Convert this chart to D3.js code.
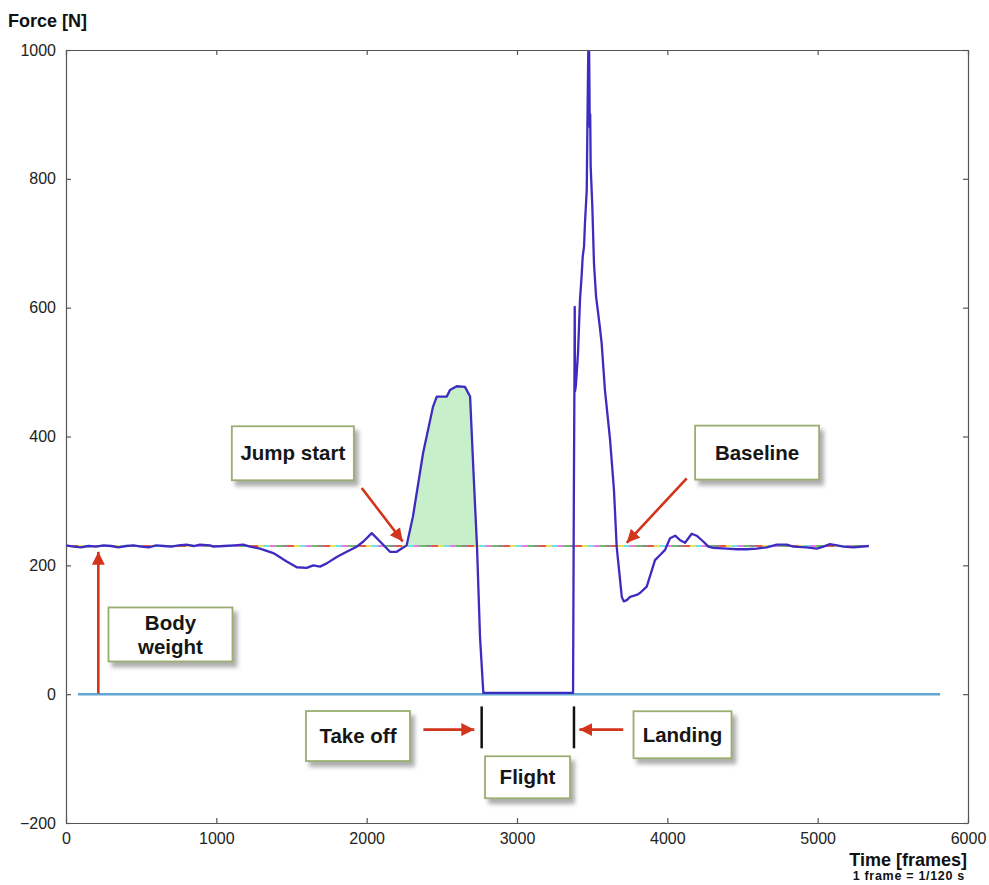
<!DOCTYPE html>
<html>
<head>
<meta charset="utf-8">
<script src="https://cdn.jsdelivr.net/npm/d3@7"></script>
<style>
  body { margin: 0; background: #fff; }
  svg { font-family: "Liberation Sans", Arial, sans-serif; }
</style>
</head>
<body>
<div id="chart"></div>
<script>
// Force plate trace of a countermovement jump.

const FRAMES = [
  0, 50, 100, 150, 200, 250, 300, 350, 400, 450, 500, 550, 600, 650, 700, 750, 800, 850,
  891, 958, 980, 1050, 1120, 1179, 1224, 1290, 1379, 1468, 1535, 1601, 1645, 1690, 1734,
  1801, 1867, 1934, 1978, 2034, 2089, 2155, 2200, 2233, 2266, 2308, 2375, 2441, 2466, 2533,
  2554, 2599, 2654, 2688, 2710, 2734, 2754, 2776, 3373, 3378, 3382, 3384, 3386, 3392, 3406,
  3419, 3430, 3437, 3446, 3452, 3464, 3468, 3474, 3480, 3484, 3487, 3490, 3501, 3512, 3526,
  3548, 3563, 3585, 3619, 3645, 3663, 3681, 3697, 3710, 3730, 3752, 3796, 3818, 3863, 3918,
  3952, 3985, 4018, 4052, 4085, 4118, 4162, 4195, 4239, 4273, 4306, 4395, 4461, 4528, 4595,
  4661, 4728, 4794, 4838, 4927, 4994, 5038, 5082, 5128, 5172, 5237, 5340
];
const FORCE = [
  231, 229, 228, 230, 229, 231, 230, 228, 230, 231, 229, 228, 231, 230, 229, 231, 232, 230,
  232, 231, 229, 230, 231, 232, 229, 226, 219, 206, 197, 196, 200, 198, 203,
  213, 221, 229, 237, 250, 237, 221, 221, 226, 231, 276, 374, 446, 462, 462,
  472, 478, 477, 462, 348, 229, 89, 2, 2, 300, 480, 601, 470, 480, 530,
  612, 650, 679, 695, 731, 783, 876, 997, 997, 880, 900, 820, 757, 669, 617,
  576, 545, 472, 395, 317, 229, 188, 151, 144, 146, 151, 154, 157, 167, 208,
  216, 224, 242, 246, 239, 235, 249, 246, 237, 229, 227, 226, 225, 225, 226,
  228, 232, 232, 229, 228, 226, 229, 233, 231, 229, 228, 230
];

const BODY_WEIGHT   = 230;          // N, dashed baseline
const BASELINE_SPAN = [0, 5340];    // frames
const ZERO_SPAN     = [80, 5815];   // frames
const IMPULSE_SPAN  = [2266, 2734]; // shaded region (jump start -> crossing)

const X_TICKS = [0, 1000, 2000, 3000, 4000, 5000, 6000];
const Y_TICKS = [-200, 0, 200, 400, 600, 800, 1000];

// Callout boxes: label lines and centre in data units
const LABELS = [
  { lines: ["Jump start"],     at: [1509, 374],  w: 122, h: 54 },
  { lines: ["Baseline"],       at: [4597, 375],  w: 124, h: 54 },
  { lines: ["Body", "weight"], at: [695, 92.7],  w: 124, h: 54 },
  { lines: ["Take off"],       at: [1942, -65],  w: 104, h: 50 },
  { lines: ["Landing"],        at: [4101, -63],  w: 98,  h: 47 },
  { lines: ["Flight"],         at: [3070, -129], w: 85,  h: 42 },
];

// Red arrows: from -> to, data units
const ARROWS = [
  { from: [1967, 320], to: [2240, 237] },
  { from: [4129, 335], to: [3730, 235] },
  { from: [215, 1],    to: [215, 221] },
  { from: [2377, -55], to: [2716, -55] },
  { from: [3707, -55], to: [3415, -55] },
];

// Black take-off / landing markers
const MARKERS = [2765, 3379];
const MARKER_RANGE = [-19, -84];

// ── Layout ──────────────────────────────────────────────────────────────────

const W = 989, H = 885;
const margin = { top: 50, right: 21, bottom: 62, left: 66 };

const x = d3.scaleLinear().domain([0, 6000]).range([margin.left, W - margin.right]);
const y = d3.scaleLinear().domain([-200, 1000]).range([H - margin.bottom, margin.top]);

const svg = d3.select("#chart").append("svg")
  .attr("width", W)
  .attr("height", H);

const defs = svg.append("defs");
defs.append("filter")
  .attr("id", "shadow")
  .attr("x", "-20%").attr("y", "-20%").attr("width", "150%").attr("height", "160%")
  .append("feDropShadow")
    .attr("dx", 4).attr("dy", 5)
    .attr("stdDeviation", 2)
    .attr("flood-color", "#777")
    .attr("flood-opacity", 0.6);

defs.append("marker")
  .attr("id", "head")
  .attr("viewBox", "0 0 10 10")
  .attr("refX", 10).attr("refY", 5)
  .attr("markerWidth", 5).attr("markerHeight", 5)
  .attr("markerUnits", "strokeWidth")
  .attr("orient", "auto")
  .append("path")
    .attr("d", "M0,0 L10,5 L0,10 z")
    .attr("fill", "#d2341c");

// ── Axes (MATLAB-style box, inward ticks on all sides) ───────────────────────

const axisColor = "#555";
const tickStyle = ax => {
  ax.selectAll("path.domain").attr("stroke", axisColor).attr("stroke-width", 1.2);
  ax.selectAll(".tick line").attr("stroke", axisColor).attr("stroke-width", 1.2);
  ax.selectAll("text").attr("fill", "#222").style("font-size", "16px")
    .style("font-family", "'Liberation Sans', Arial, sans-serif");
};

svg.append("g")
  .attr("transform", `translate(${margin.left},0)`)
  .call(d3.axisLeft(y).tickValues(Y_TICKS).tickSizeInner(-5).tickSizeOuter(0).tickPadding(10)
    .tickFormat(d3.format("d")))
  .call(tickStyle);

svg.append("g")
  .attr("transform", `translate(${W - margin.right},0)`)
  .call(d3.axisRight(y).tickValues(Y_TICKS).tickSizeInner(-5).tickSizeOuter(0).tickFormat(""))
  .call(tickStyle);

svg.append("g")
  .attr("transform", `translate(0,${H - margin.bottom})`)
  .call(d3.axisBottom(x).tickValues(X_TICKS).tickSizeInner(-5).tickSizeOuter(0).tickPadding(10)
    .tickFormat(d3.format("d")))
  .call(tickStyle);

svg.append("g")
  .attr("transform", `translate(0,${margin.top})`)
  .call(d3.axisTop(x).tickValues(X_TICKS).tickSizeInner(-5).tickSizeOuter(0).tickFormat(""))
  .call(tickStyle);

svg.append("text")
  .attr("x", 8).attr("y", 27)
  .style("font-size", "18px").style("font-weight", "bold").attr("fill", "#111")
  .text("Force [N]");

svg.append("text")
  .attr("x", 967).attr("y", 866)
  .attr("text-anchor", "end")
  .style("font-size", "18px").style("font-weight", "bold").attr("fill", "#111")
  .text("Time [frames]");

svg.append("text")
  .attr("x", 965).attr("y", 880)
  .attr("text-anchor", "end")
  .style("font-size", "12.5px").style("font-weight", "bold")
  .style("letter-spacing", "0.7px").attr("fill", "#111")
  .text("1 frame = 1/120 s");

// ── Data ────────────────────────────────────────────────────────────────────

const data = FRAMES.map((f, i) => ({ f, v: FORCE[i] }));

// shaded impulse above body weight
const shaded = data.filter(d => d.f >= IMPULSE_SPAN[0] && d.f <= IMPULSE_SPAN[1]);
svg.append("path")
  .datum(shaded)
  .attr("fill", "#c6efca")
  .attr("d", d3.area().x(d => x(d.f)).y0(y(BODY_WEIGHT)).y1(d => y(Math.max(d.v, BODY_WEIGHT))));

// zero force line
svg.append("line")
  .attr("x1", x(ZERO_SPAN[0])).attr("x2", x(ZERO_SPAN[1]))
  .attr("y1", y(0)).attr("y2", y(0))
  .attr("stroke", "#62a6d2").attr("stroke-width", 2.5);

// multicoloured dashed body-weight line
const dashColors = ["#8a8a8a", "#e4574f", "#e6df57", "#6fe0e6", "#e27be0", "#6fba6a"];
dashColors.forEach((c, i) => {
  svg.append("line")
    .attr("x1", x(BASELINE_SPAN[0])).attr("x2", x(BASELINE_SPAN[1]))
    .attr("y1", y(BODY_WEIGHT)).attr("y2", y(BODY_WEIGHT))
    .attr("stroke", c).attr("stroke-width", 1.8)
    .attr("stroke-dasharray", `6,${6 * (dashColors.length - 1)}`)
    .attr("stroke-dashoffset", -6 * i);
});

// force trace
svg.append("path")
  .datum(data)
  .attr("fill", "none")
  .attr("stroke", "#3d2cbf")
  .attr("stroke-width", 2.3)
  .attr("stroke-linejoin", "round")
  .attr("d", d3.line().x(d => x(d.f)).y(d => y(d.v)));

// ── Annotations ─────────────────────────────────────────────────────────────

MARKERS.forEach(f => {
  svg.append("line")
    .attr("x1", x(f)).attr("x2", x(f))
    .attr("y1", y(MARKER_RANGE[0])).attr("y2", y(MARKER_RANGE[1]))
    .attr("stroke", "#111").attr("stroke-width", 2.5);
});

ARROWS.forEach(a => {
  svg.append("line")
    .attr("x1", x(a.from[0])).attr("y1", y(a.from[1]))
    .attr("x2", x(a.to[0])).attr("y2", y(a.to[1]))
    .attr("stroke", "#d2341c").attr("stroke-width", 2.6)
    .attr("marker-end", "url(#head)");
});

LABELS.forEach(l => {
  const cx = x(l.at[0]), cy = y(l.at[1]);
  const g = svg.append("g");
  g.append("rect")
    .attr("x", cx - l.w / 2).attr("y", cy - l.h / 2)
    .attr("width", l.w).attr("height", l.h)
    .attr("fill", "#fff")
    .attr("stroke", "#9aae72").attr("stroke-width", 1.8)
    .attr("filter", "url(#shadow)");
  const lh = 24;
  l.lines.forEach((t, i) => {
    g.append("text")
      .attr("x", cx)
      .attr("y", cy + (i - (l.lines.length - 1) / 2) * lh)
      .attr("dy", "0.35em")
      .attr("text-anchor", "middle")
      .style("font-size", "20.5px").style("font-weight", "bold").attr("fill", "#161616")
      .text(t);
  });
});
</script>
</body>
</html>
